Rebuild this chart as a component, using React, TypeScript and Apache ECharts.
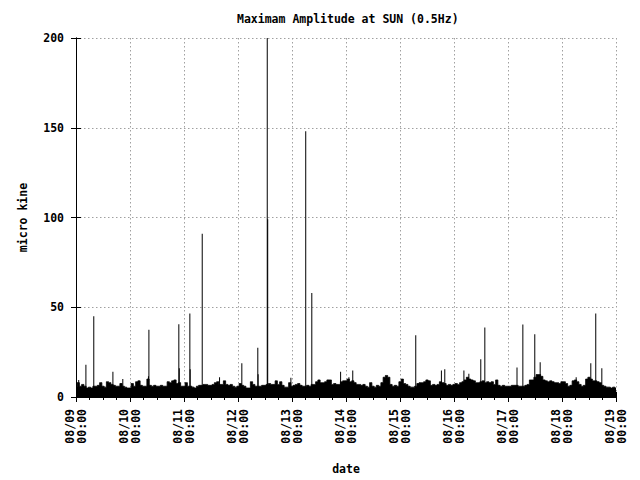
import React, { useEffect, useRef } from "react";
import * as echarts from "echarts";

const titleText = "Maximam Amplitude at SUN (0.5Hz)";
const xName = "date";
const yName = "micro kine";

const xTickLabels = [
  "08/09\n00:00", "08/10\n00:00", "08/11\n00:00", "08/12\n00:00", "08/13\n00:00", "08/14\n00:00",
  "08/15\n00:00", "08/16\n00:00", "08/17\n00:00", "08/18\n00:00", "08/19\n00:00",
];

// hourly background level (hours since 08/09 00:00)
const day0809 = [5.5, 8, 6, 7, 6, 5, 5.5, 5, 6, 6, 6.5, 8, 6, 5.5, 8.5, 8, 7, 6.5, 6, 6, 7.5, 6, 5.5, 5];
const day0810 = [5, 7.5, 6, 8.5, 9, 6.5, 6, 6, 10, 6.5, 6, 6.5, 6, 6, 6.5, 6, 6, 8.5, 8, 9, 9.5, 7.5, 8, 6];
const day0811 = [6, 8, 6, 6, 5.5, 5, 6, 6.5, 6.5, 7, 7, 6.5, 6.5, 7, 8, 8.5, 7, 7, 9, 7, 6.5, 7, 6, 5.5];
const day0812 = [6, 7.5, 6.5, 6, 5, 5, 8.5, 7, 6, 6, 6, 6.5, 6.5, 7, 7.5, 7, 7, 9, 7, 8.5, 6.5, 5.5, 5.5, 8];
const day0813 = [6, 6.5, 7, 7.5, 6.5, 6, 6, 6.5, 6, 7, 7, 8.5, 9.5, 8, 8, 8.5, 9.5, 9.5, 7, 7.5, 7, 7, 8.5, 9];
const day0814 = [9, 10, 8.5, 9, 8, 7, 7, 6.5, 7, 6, 5.5, 8, 6, 5.5, 6.5, 6, 8, 11, 12, 11, 7, 6, 6.5, 6];
const day0815 = [8.5, 10, 7.5, 7, 6, 5.5, 5.5, 6, 7.5, 8, 8, 8.5, 9.5, 9, 6.5, 7, 6.5, 7, 8.5, 8, 7.5, 6.5, 7, 6.5];
const day0816 = [7, 7.5, 7, 8, 8.5, 9.5, 11, 10, 9.5, 9, 8, 8, 8.5, 9, 8, 8.5, 8, 8.5, 7, 9.5, 6.5, 6, 6.5, 6];
const day0817 = [6, 6, 6.5, 6.5, 6.5, 6, 6, 6, 6.5, 7, 9.5, 9.5, 11, 12.5, 12.5, 11.5, 9.5, 9, 8.5, 9, 8.5, 8, 8, 7.5];
const day0818 = [8.5, 8.5, 7.5, 6, 6.5, 9, 9.5, 8.5, 7, 6, 6.5, 10, 11, 10, 9, 9, 8.5, 8, 6.5, 6, 5.5, 5.5, 5, 5.5];
const endValue = [5];

// isolated spikes: [hours since 08/09 00:00, value]
const spikes: [number, number][] = [
  [1.2, 9.5], [4.4, 18], [7.9, 45], [16.4, 14], [20.8, 10], [32.2, 11.6], [32.4, 37.5],
  [45.7, 40.5], [45.9, 16], [50.6, 46.5], [50.75, 15.5], [56.1, 91], [63.8, 11],
  [73.7, 18.8], [80.8, 27.5], [80.95, 12.7], [85.0, 200], [85.2, 99], [95.5, 10.7],
  [102.1, 148], [104.8, 58], [117.6, 14], [121.3, 11], [123.0, 14.8], [151.0, 34.4],
  [162.4, 14.8], [163.9, 15.4], [172.4, 14.8], [174.6, 13], [179.9, 21], [181.7, 38.7],
  [196.0, 16.5], [198.6, 40.4], [203.9, 35], [206.3, 19.4], [222.3, 11], [228.8, 18.8],
  [231.0, 46.5], [233.7, 16],
];

const hourly = [
  ...day0809, ...day0810, ...day0811, ...day0812, ...day0813,
  ...day0814, ...day0815, ...day0816, ...day0817, ...day0818, ...endValue,
];

const FONT = "DejaVu Sans Mono";
const GRID_DASH = [1.5, 2.5];

export default function App() {
  const ref = useRef<HTMLDivElement>(null);
  useEffect(() => {
    document.body.style.margin = "0";
    if (!ref.current) return;
    const chart = echarts.init(ref.current, undefined, { renderer: "svg", width: 640, height: 480 });
    const textStyle = { fontFamily: FONT, fontWeight: "bold" as const, fontSize: 11.5, color: "#000" };
    const baseX = {
      type: "value" as const,
      min: 0,
      max: 240,
      interval: 24,
      axisLine: { show: true, lineStyle: { color: "#000", width: 1 } },
      axisTick: { show: true, inside: false, length: 5, lineStyle: { color: "#000" } },
      minorTick: { show: true, splitNumber: 4, length: 3, lineStyle: { color: "#000" } },
    };
    const baseY = {
      type: "value" as const,
      min: 0,
      max: 200,
      interval: 50,
      axisLine: { show: true, lineStyle: { color: "#000", width: 1 } },
      axisTick: { show: true, inside: false, length: 5, lineStyle: { color: "#000" } },
    };
    chart.setOption({
      animation: false,
      backgroundColor: "#fff",
      title: {
        text: titleText,
        left: 237,
        top: 13,
        padding: 0,
        textStyle: { ...textStyle },
      },
      grid: { left: 76, right: 24, top: 38, bottom: 80, containLabel: false },
      xAxis: [
        {
          ...baseX,
          position: "bottom",
          name: xName,
          nameLocation: "middle",
          nameGap: 66,
          nameTextStyle: { ...textStyle },
          axisLabel: {
            rotate: 90,
            margin: 12,
            lineHeight: 12,
            ...textStyle,
            formatter: (v: number) => xTickLabels[Math.round(v / 24)] ?? "",
          },
          splitLine: { show: true, lineStyle: { color: "#a0a0a0", type: GRID_DASH, width: 1 } },
        },
        {
          ...baseX,
          position: "top",
          axisLabel: { show: false },
          splitLine: { show: false },
        },
      ],
      yAxis: [
        {
          ...baseY,
          position: "left",
          name: yName,
          nameLocation: "middle",
          nameRotate: 90,
          nameGap: 47,
          nameTextStyle: { ...textStyle },
          axisLabel: { margin: 12, ...textStyle },
          splitLine: { show: true, lineStyle: { color: "#a0a0a0", type: GRID_DASH, width: 1 } },
        },
        {
          ...baseY,
          position: "right",
          axisLabel: { show: false },
          splitLine: { show: false },
        },
      ],
      series: [
        {
          type: "line",
          xAxisIndex: 0,
          yAxisIndex: 0,
          step: "middle",
          showSymbol: false,
          symbol: "none",
          data: hourly.map((v, i) => [i, v]),
          lineStyle: { color: "#000", width: 0.8 },
          areaStyle: { color: "#000", opacity: 1 },
          silent: true,
          z: 3,
        },
        {
          type: "bar",
          xAxisIndex: 0,
          yAxisIndex: 0,
          barWidth: 1,
          data: spikes,
          itemStyle: { color: "#000" },
          silent: true,
          z: 4,
        },
      ],
    });
    return () => chart.dispose();
  }, []);
  return <div ref={ref} style={{ width: 640, height: 480 }} />;
}
